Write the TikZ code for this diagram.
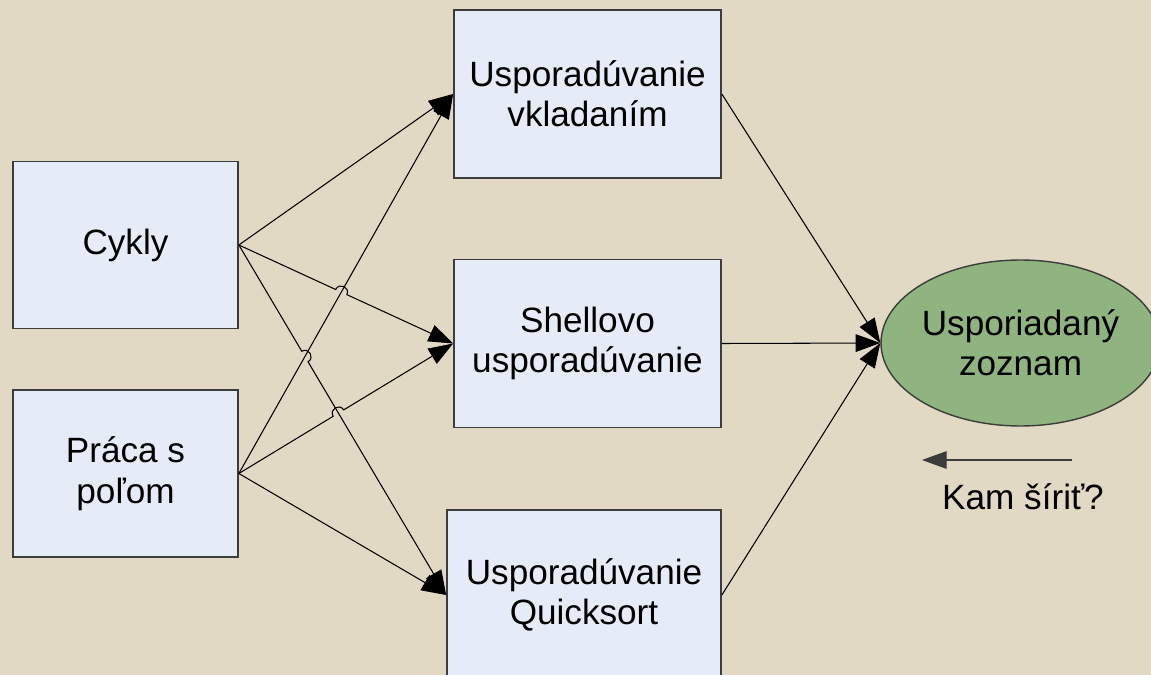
\documentclass[tikz,border=0pt]{standalone}
\usepackage{fontspec}
\setmainfont{Liberation Sans}
\usepackage{xcolor}
\usepackage{tikz}
\usetikzlibrary{shapes.geometric, arrows.meta, calc, intersections}

\definecolor{bgtan}{RGB}{226,217,196}
\definecolor{boxfill}{RGB}{230,236,247}
\definecolor{boxline}{RGB}{60,60,60}
\definecolor{ovalfill}{RGB}{143,180,127}

\begin{document}
\begin{tikzpicture}[x=0.02cm, y=-0.02cm,
  box/.style={rectangle, draw=boxline, line width=1pt, fill=boxfill,
              minimum width=4.5cm, minimum height=3.34cm,
              font=\fontsize{20}{23}\selectfont, align=center},
  bigbox/.style={box, minimum width=5.34cm, minimum height=3.36cm},
  oval/.style={ellipse, draw=boxline, line width=0.8pt, fill=ovalfill,
               minimum width=5.22cm, minimum height=3.32cm, inner sep=0pt,
               font=\fontsize{20}{23}\selectfont, align=center},
  arr/.style={-{Triangle[length=14pt, width=10pt]}, line width=0.6pt},
  hop/.style={bend left=90, looseness=1.7}
]

%% ── background ───────────────────────────────────────────────────────
\fill[bgtan] (0,0) rectangle (1151,675);
\useasboundingbox (0,0) rectangle (1151,675);

%% ── left column: inputs ──────────────────────────────────────────────
\node[box] at (125.5, 245) (cykly) {Cykly};
\node[box] at (125.5, 473.5) (praca) {Práca s\\poľom};

%% ── middle column: sorting methods ───────────────────────────────────
\node[bigbox] at (587.5, 94)    (vklad) {Usporadúvanie\\vkladaním};
\node[bigbox] at (587.5, 343.5) (shell) {Shellovo\\usporadúvanie};
\node[bigbox, minimum width=5.48cm, minimum height=3.4cm]
      at (584, 595) (quick) {Usporadúvanie\\Quicksort};

%% ── result ───────────────────────────────────────────────────────────
\node[oval] at (1020.5, 343) (zoznam) {Usporiadaný\\zoznam};

%% ── crossing points (for the line hops) ──────────────────────────────
\path[name path=pv] (praca.east) -- (vklad.west);
\path[name path=cs] (cykly.east) -- (shell.west);
\path[name path=cq] (cykly.east) -- (quick.west);
\path[name path=ps] (praca.east) -- (shell.west);
\path[name intersections={of=pv and cs, by=h1}];
\path[name intersections={of=pv and cq, by=h2}];
\path[name intersections={of=cq and ps, by=h3}];

%% ── Cykly → methods ──────────────────────────────────────────────────
\draw[arr] (cykly.east) -- (vklad.west);
\draw[arr] (cykly.east) -- ($(h1)!3.5pt!(cykly.east)$)
  to[hop] ($(h1)!3.5pt!(shell.west)$) -- (shell.west);
\draw[arr] (cykly.east) -- ($(h2)!3.5pt!(cykly.east)$)
  to[hop] ($(h2)!3.5pt!(quick.west)$) -- (quick.west);

%% ── Práca s poľom → methods ──────────────────────────────────────────
\draw[arr] (praca.east) -- (vklad.west);
\draw[arr] (praca.east) -- ($(h3)!3.5pt!(praca.east)$)
  to[hop] ($(h3)!3.5pt!(shell.west)$) -- (shell.west);
\draw[arr] (praca.east) -- (quick.west);

%% ── methods → result ─────────────────────────────────────────────────
\draw[arr] (vklad.east) -- (zoznam.west);
\draw[arr] (shell.east) -- (zoznam.west);
\draw[arr] (quick.east) -- (zoznam.west);

%% ── question arrow ───────────────────────────────────────────────────
\coordinate (qstart) at (1072, 460);
\coordinate (qend)   at (922, 460);
\draw[arr, draw=boxline] (qstart) -- (qend);
\node[font=\fontsize{20}{23}\selectfont] at (1023, 497) (kam) {Kam šíriť?};

\end{tikzpicture}
\end{document}
